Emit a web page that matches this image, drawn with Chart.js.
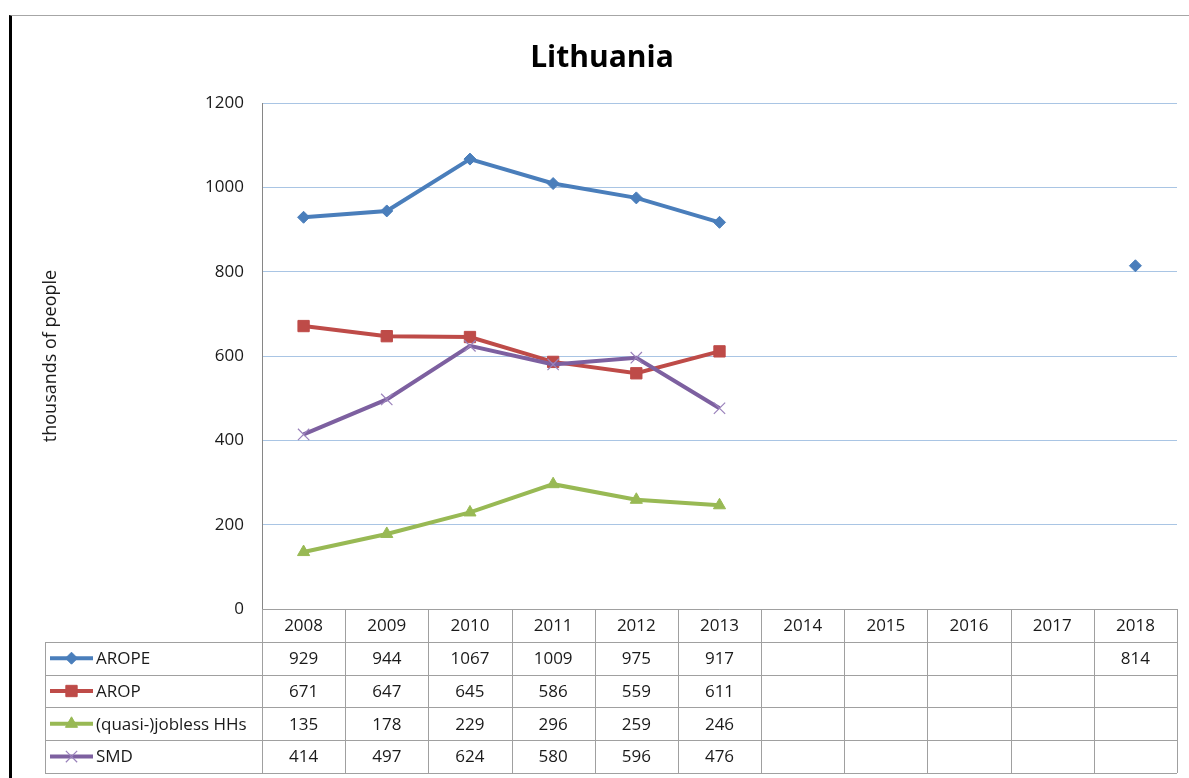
<!DOCTYPE html>
<html>
<head>
<meta charset="utf-8">
<title>Lithuania</title>
<script src="https://cdn.jsdelivr.net/npm/chart.js@4/dist/chart.umd.min.js"></script>
<style>
  body { margin: 0; background: #fff; }
  #wrap { position: relative; width: 1189px; height: 778px; }
  #frame {
    position: absolute; left: 9px; top: 15px; width: 1180px; height: 763px;
    border-left: 3px solid #000; border-top: 1px solid #a6a6a6;
    box-sizing: border-box; pointer-events: none;
  }
</style>
</head>
<body>
<div id="wrap">
  <canvas id="chart" width="1189" height="778"></canvas>
  <div id="frame"></div>
</div>
<script>
// years shown on the category axis / table header
const years = ['2008', '2009', '2010', '2011', '2012', '2013', '2014', '2015', '2016', '2017', '2018'];

// thousands of people
const arope   = [929, 944, 1067, 1009, 975, 917, null, null, null, null, 814];
const arop    = [671, 647, 645, 586, 559, 611, null, null, null, null, null];
const jobless = [135, 178, 229, 296, 259, 246, null, null, null, null, null];
const smd     = [414, 497, 624, 580, 596, 476, null, null, null, null, null];

const yTicks = [0, 200, 400, 600, 800, 1000, 1200];

const FONT = "'Open Sans', 'DejaVu Sans', sans-serif";

// draws the data table (with legend keys) under the plot, aligned on the x scale
const tablePlugin = {
    id: 'dataTable',
    afterDraw(chart) {
        const ctx = chart.ctx;
        const area = chart.chartArea;
        const xs = chart.scales.x;
        const colW = (area.right - area.left) / years.length;
        const rowH = 32.8;
        const top = area.bottom;
        const legendLeft = 45;
        const sets = chart.data.datasets;
        const bottom = top + rowH * (sets.length + 1);

        ctx.save();
        ctx.strokeStyle = '#a0a0a0';
        ctx.lineWidth = 1;

        // horizontal lines
        ctx.beginPath();
        ctx.moveTo(area.left, top + 0.5);
        ctx.lineTo(area.right, top + 0.5);
        for (let r = 1; r <= sets.length + 1; r++) {
            const y = Math.round(top + r * rowH) + 0.5;
            ctx.moveTo(legendLeft, y);
            ctx.lineTo(area.right, y);
        }
        // vertical lines
        for (let c = 0; c <= years.length; c++) {
            const x = Math.round(area.left + c * colW) + 0.5;
            ctx.moveTo(x, top);
            ctx.lineTo(x, bottom);
        }
        ctx.moveTo(legendLeft + 0.5, Math.round(top + rowH));
        ctx.lineTo(legendLeft + 0.5, bottom);
        ctx.stroke();

        ctx.font = '17px ' + FONT;
        ctx.fillStyle = '#1a1a1a';
        ctx.textBaseline = 'middle';
        ctx.textAlign = 'center';

        // header
        years.forEach((yr, i) => {
            ctx.fillText(yr, xs.getPixelForValue(i), top + rowH / 2 + 1);
        });

        // rows
        sets.forEach((ds, r) => {
            const cy = top + rowH * (r + 1) + rowH / 2 + 1;
            ctx.textAlign = 'center';
            ctx.fillStyle = '#1a1a1a';
            ds.data.forEach((v, i) => {
                if (v !== null) ctx.fillText(String(v), xs.getPixelForValue(i), cy);
            });

            // legend key
            ctx.strokeStyle = ds.borderColor;
            ctx.lineWidth = 4;
            ctx.beginPath();
            ctx.moveTo(50, cy - 1);
            ctx.lineTo(93, cy - 1);
            ctx.stroke();
            ctx.fillStyle = ds.pointBackgroundColor;
            ctx.strokeStyle = ds.pointBorderColor;
            ctx.lineWidth = ds.pointBorderWidth;
            if (Chart.helpers && Chart.helpers.drawPoint) {
                Chart.helpers.drawPoint(ctx, {
                    pointStyle: ds.pointStyle,
                    radius: ds.pointRadius,
                    borderWidth: ds.pointBorderWidth,
                    rotation: 0
                }, 71.5, cy - 1);
            }
            ctx.fillStyle = '#1a1a1a';
            ctx.textAlign = 'left';
            ctx.fillText(ds.label, 96, cy);
            ctx.strokeStyle = '#a0a0a0';
            ctx.lineWidth = 1;
        });
        ctx.restore();
    }
};

const ctx = document.getElementById('chart').getContext('2d');
new Chart(ctx, {
    type: 'line',
    data: {
        labels: years,
        datasets: [
            {
                label: 'AROPE', data: arope, order: 4,
                borderColor: '#4a7ebb', backgroundColor: '#4a7ebb',
                pointBackgroundColor: '#4a7ebb', pointBorderColor: '#4a7ebb',
                pointStyle: 'rectRot', pointRadius: 6, pointBorderWidth: 1
            },
            {
                label: 'AROP', data: arop, order: 3,
                borderColor: '#be4b48', backgroundColor: '#be4b48',
                pointBackgroundColor: '#be4b48', pointBorderColor: '#be4b48',
                pointStyle: 'rect', pointRadius: 8, pointBorderWidth: 1
            },
            {
                label: '(quasi-)jobless HHs', data: jobless, order: 2,
                borderColor: '#98b954', backgroundColor: '#98b954',
                pointBackgroundColor: '#98b954', pointBorderColor: '#98b954',
                pointStyle: 'triangle', pointRadius: 7, pointBorderWidth: 1
            },
            {
                label: 'SMD', data: smd, order: 1,
                borderColor: '#7d60a0', backgroundColor: '#7d60a0',
                pointBackgroundColor: '#9a82bb', pointBorderColor: '#9a82bb',
                pointStyle: 'crossRot', pointRadius: 8, pointBorderWidth: 1.2
            }
        ]
    },
    options: {
        responsive: false,
        animation: false,
        spanGaps: false,
        elements: {
            line: { borderWidth: 4, tension: 0 }
        },
        layout: { padding: { left: 27, right: 12, top: 0, bottom: 169 } },
        plugins: {
            legend: { display: false },
            tooltip: { enabled: false },
            title: {
                display: true,
                text: 'Lithuania',
                color: '#000',
                font: { family: FONT, size: 30, weight: 'bold' },
                padding: { top: 40, bottom: 27 }
            }
        },
        scales: {
            x: {
                display: false,
                offset: true
            },
            y: {
                min: 0,
                max: 1200,
                afterBuildTicks: (scale) => { scale.ticks = yTicks.map(v => ({ value: v })); },
                afterFit: (scale) => { scale.width = 235; },
                grid: { color: '#a9c5e4', drawTicks: false },
                border: { color: '#868686', width: 1 },
                ticks: {
                    padding: 18,
                    color: '#1a1a1a',
                    font: { family: FONT, size: 17 },
                    callback: (v) => String(v)
                },
                title: {
                    display: true,
                    text: 'thousands of people',
                    color: '#1a1a1a',
                    font: { family: FONT, size: 18 },
                    padding: { top: 13, bottom: 0 }
                }
            }
        }
    },
    plugins: [tablePlugin]
});
</script>
</body>
</html>
